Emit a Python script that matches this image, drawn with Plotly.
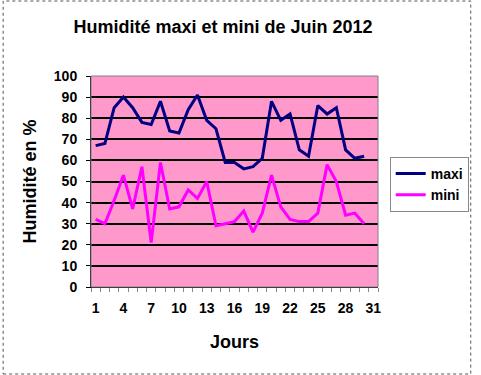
import plotly.graph_objects as go

days = list(range(1, 31))
maxi = [67, 68, 85, 90, 85, 78, 77, 88, 74, 73, 84, 91, 79, 75, 59,
        59, 56, 57, 61, 88, 79, 82, 65, 62, 86, 82, 85, 65, 61, 62]
mini = [32, 30, 41, 53, 37, 57, 21, 59, 37, 38, 46, 42, 50, 29, 30,
        31, 36, 26, 35, 53, 38, 32, 31, 31, 35, 58, 50, 34, 35, 30]
x_ticks = [1, 4, 7, 10, 13, 16, 19, 22, 25, 28, 31]
y_ticks = list(range(0, 101, 10))

W, H = 481, 375
L, R, T, B = 91, 96, 76, 88
pw, ph = W - L - R, H - T - B

FAM = "Liberation Sans, Arial, sans-serif"
font = dict(family=FAM, color="black", size=14, weight="bold")

fig = go.Figure()
fig.add_trace(go.Scatter(x=days, y=maxi, name="maxi", mode="lines",
                         line=dict(color="#000080", width=3)))
fig.add_trace(go.Scatter(x=days, y=mini, name="mini", mode="lines",
                         line=dict(color="#FF00FF", width=3)))

fig.update_layout(
    width=W, height=H,
    margin=dict(l=L, r=R, t=T, b=B),
    paper_bgcolor="white",
    plot_bgcolor="#FF99CC",
    font=font,
    title=dict(text="Humidité maxi et mini de Juin 2012", x=223 / W, xanchor="center",
               y=1 - 27 / H, yanchor="middle",
               font=dict(family=FAM, size=18, weight="bold", color="black")),
    xaxis=dict(range=[0.5, 31.5], tickmode="array", tickvals=x_ticks,
               ticktext=[str(v) for v in x_ticks], ticks="", showgrid=False,
               zeroline=False, showline=True, linecolor="black", linewidth=1,
               ticklabelstandoff=8,
               minor=dict(tickmode="linear", tick0=0.5, dtick=1, ticks="outside",
                          ticklen=4, tickcolor="#888888", showgrid=False),
               title=dict(text="Jours", standoff=20,
                          font=dict(family=FAM, size=18, weight="bold")),
               fixedrange=True),
    yaxis=dict(range=[0, 100], tickmode="array", tickvals=y_ticks, ticks="outside",
               ticklen=4, tickcolor="black", showgrid=True, gridcolor="black", gridwidth=2,
               zeroline=False, showline=True, linecolor="black", linewidth=1,
               ticklabelstandoff=6,
               title=dict(text="Humidité en %", standoff=12,
                          font=dict(family=FAM, size=18, weight="bold")),
               fixedrange=True),
    legend=dict(x=(397 - L) / pw, xanchor="left", y=(H - B - 157) / ph, yanchor="top",
                bgcolor="white", bordercolor="#888888", borderwidth=1,
                font=dict(family=FAM, size=14, weight="bold"),
                tracegroupgap=2, itemwidth=30),
    showlegend=True,
)

# plot-area border (gray)
fig.add_shape(type="rect", xref="paper", yref="paper", x0=0, x1=1, y0=0, y1=1,
              line=dict(color="#808080", width=1), fillcolor="rgba(0,0,0,0)", layer="above")
# outer dotted chart border
fig.add_shape(type="rect", xref="paper", yref="paper",
              x0=(1 - L) / pw, x1=(W - 1 - L) / pw,
              y0=-(B - 1) / ph, y1=1 + (T - 1) / ph,
              line=dict(color="#555555", width=1, dash="dot"), fillcolor="rgba(0,0,0,0)")

fig.write_html("out.html")
